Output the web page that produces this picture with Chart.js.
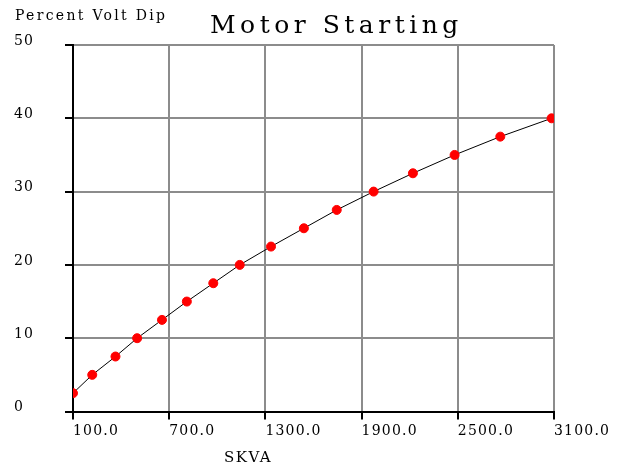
<!DOCTYPE html>
<html>
<head>
<meta charset="utf-8">
<script src="https://cdn.jsdelivr.net/npm/chart.js@4/dist/chart.umd.min.js"></script>
<style>
  html, body { margin: 0; padding: 0; background: #fff; }
  #wrap { width: 626px; height: 465px; position: relative; }
</style>
</head>
<body>
<div id="wrap"><canvas id="c" width="626" height="465"></canvas></div>
<script>
const chartTitle = "Motor Starting";
const xAxisTitle = "SKVA";
const yAxisTitle = "Percent Volt Dip";
const skva = [100, 220, 365, 500, 655, 810, 975, 1140, 1335, 1540, 1745, 1975, 2220, 2480, 2765, 3085];
const voltDip = [2.5, 5, 7.5, 10, 12.5, 15, 17.5, 20, 22.5, 25, 27.5, 30, 32.5, 35, 37.5, 40];
const xTicks = [100, 700, 1300, 1900, 2500, 3100];
const yTicks = [0, 10, 20, 30, 40, 50];

const serif = "'DejaVu Serif', 'Liberation Serif', serif";

const textPlugin = {
  id: 'texts',
  beforeDraw(chart) {
    chart.ctx.letterSpacing = '1.2px';
  },
  afterDraw(chart) {
    const ctx = chart.ctx;
    ctx.save();
    ctx.fillStyle = '#000';
    ctx.textBaseline = 'alphabetic';
    ctx.font = "25px " + serif;
    ctx.letterSpacing = '4.5px';
    ctx.textAlign = 'left';
    ctx.fillText(chartTitle, 210, 33);
    ctx.font = "14px " + serif;
    ctx.letterSpacing = '2.3px';
    ctx.fillText(yAxisTitle, 15, 20);
    ctx.font = "15px " + serif;
    ctx.letterSpacing = '1.5px';
    ctx.textAlign = 'center';
    ctx.fillText(xAxisTitle, 248, 462);
    ctx.restore();
  }
};

new Chart(document.getElementById('c'), {
  type: 'line',
  data: {
    datasets: [{
      data: skva.map((x, i) => ({ x: x, y: voltDip[i] })),
      borderColor: '#000',
      borderWidth: 1,
      pointBackgroundColor: '#ff0000',
      pointBorderColor: '#ff0000',
      pointRadius: 4.5,
      pointStyle: 'circle',
      tension: 0,
      fill: false
    }]
  },
  options: {
    responsive: false,
    animation: false,
    devicePixelRatio: 1,
    layout: { padding: { left: 14, right: 72, top: 45, bottom: 0 } },
    plugins: { legend: { display: false }, title: { display: false }, tooltip: { enabled: false } },
    scales: {
      x: {
        type: 'linear',
        min: 100, max: 3100,
        afterBuildTicks(scale) { scale.ticks = xTicks.map(v => ({ value: v })); },
        afterFit(scale) { scale.height = 53.5; },
        grid: { color: '#8c8c8c', lineWidth: 2, tickLength: 8, tickColor: '#000', drawTicks: true },
        border: { color: '#000', width: 2 },
        ticks: {
          align: 'start',
          padding: 3,
          color: '#000',
          font: { family: serif, size: 14 },
          maxRotation: 0,
          callback: v => Number(v).toFixed(1)
        }
      },
      y: {
        type: 'linear',
        min: 0, max: 50,
        afterBuildTicks(scale) { scale.ticks = yTicks.map(v => ({ value: v })); },
        afterFit(scale) { scale.width = 59; },
        grid: { color: '#8c8c8c', lineWidth: 2, tickLength: 8, tickColor: '#000' },
        border: { color: '#000', width: 2 },
        ticks: {
          crossAlign: 'far',
          labelOffset: -4,
          color: '#000',
          font: { family: serif, size: 14 },
          callback: v => String(v)
        }
      }
    }
  },
  plugins: [textPlugin]
});
</script>
</body>
</html>
